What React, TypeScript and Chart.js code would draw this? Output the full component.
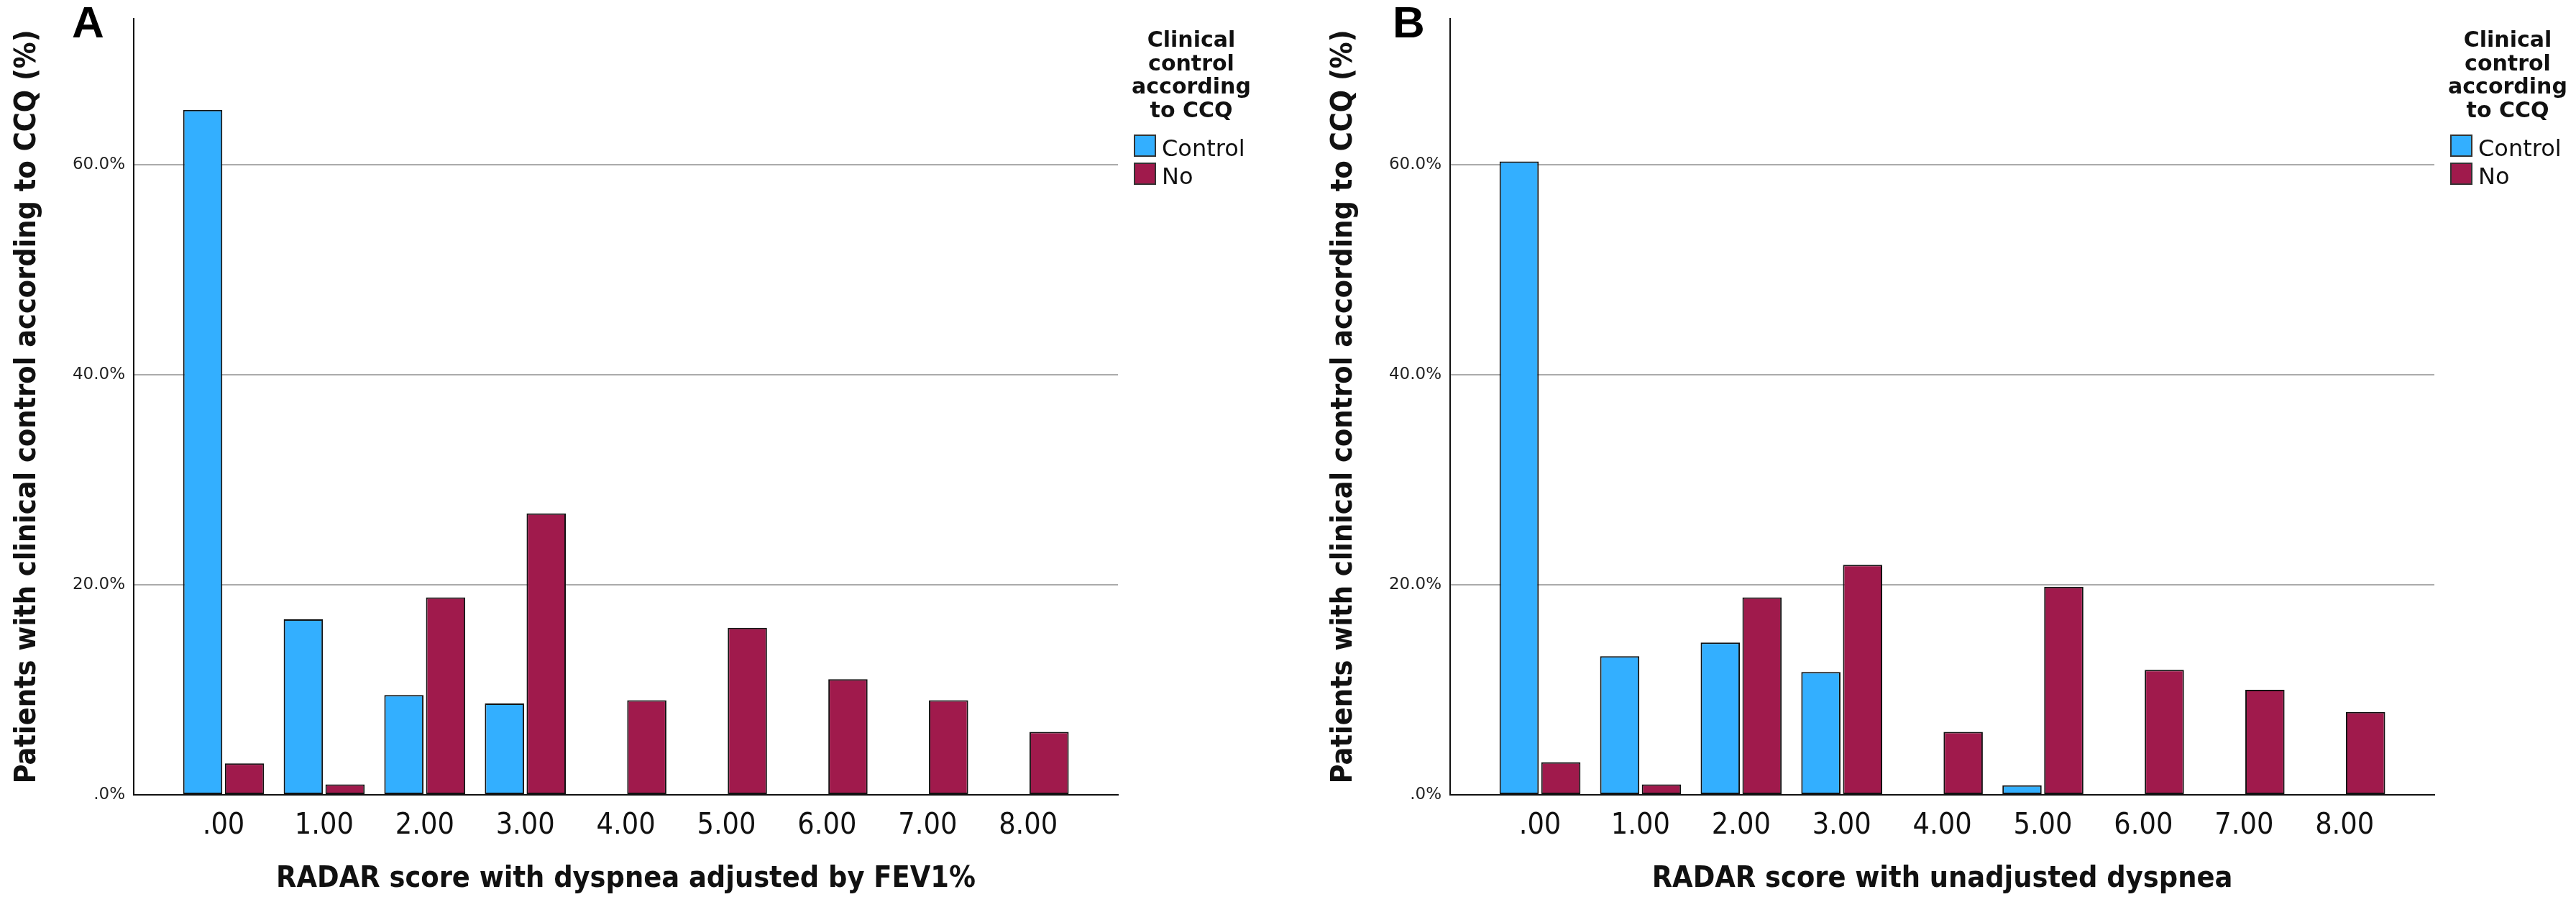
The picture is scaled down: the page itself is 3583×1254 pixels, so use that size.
import React, { useEffect, useRef } from 'react';
import { Chart, registerables } from 'chart.js';

Chart.register(...registerables);

// ---------- data ----------
const categories = ['.00', '1.00', '2.00', '3.00', '4.00', '5.00', '6.00', '7.00', '8.00'];
const seriesNames = ['Control', 'No'];
const panelAControl = [65.2, 16.7, 9.5, 8.7, 0, 0, 0, 0, 0];
const panelANo = [3.0, 1.0, 18.8, 26.8, 9.0, 15.9, 11.0, 9.0, 6.0];
const panelBControl = [60.3, 13.2, 14.5, 11.7, 0, 0.9, 0, 0, 0];
const panelBNo = [3.1, 1.0, 18.8, 21.9, 6.0, 19.8, 11.9, 10.0, 7.9];
const yTickValues = [0, 20, 40, 60];
const yMaxValue = 73.9;
const legendTitleLines = ['Clinical', 'control', 'according', 'to CCQ'];
const panelLetters = ['A', 'B'];
const xTitles = ['RADAR score with dyspnea adjusted by FEV1%', 'RADAR score with unadjusted dyspnea'];
const yTitle = 'Patients with clinical control according to CCQ (%)';

// ---------- style ----------
const COLORS = ['#33AFFF', '#A01A4C'];
const H = 1254;
const PLOT_LEFT = 186;
const PLOT_RIGHT = 1555;
const PLOT_TOP = 16;
const PLOT_BOTTOM = 1105;
const CAT0 = 311;
const CAT_STEP = 139.9;
const X_MIN = -(CAT0 - PLOT_LEFT) / CAT_STEP;
const X_MAX = X_MIN + (PLOT_RIGHT - PLOT_LEFT) / CAT_STEP;
const COND = '"DejaVu Sans Condensed", "DejaVu Sans", sans-serif';
const SANS = '"DejaVu Sans", sans-serif';

const legendPlugin = {
  id: 'spssLegend',
  afterDraw(chart: any, _args: any, opts: any) {
    const ctx = chart.ctx as CanvasRenderingContext2D;
    ctx.save();
    ctx.fillStyle = '#111';
    ctx.textAlign = 'center';
    ctx.textBaseline = 'alphabetic';
    ctx.font = `bold 30px ${SANS}`;
    legendTitleLines.forEach((l, i) => ctx.fillText(l, 1657, 65 + i * 32.5));
    chart.data.datasets.forEach((ds: any, i: number) => {
      const y = 187 + i * 39;
      ctx.fillStyle = ds.backgroundColor;
      ctx.fillRect(1577, y, 31, 31);
      ctx.strokeStyle = '#333';
      ctx.lineWidth = 2;
      ctx.strokeRect(1578, y + 1, 29, 29);
      ctx.fillStyle = '#111';
      ctx.textAlign = 'left';
      ctx.font = `32px ${SANS}`;
      ctx.fillText(ds.label, 1616, y + 30);
    });
    ctx.font = 'bold 62px "Liberation Sans", Arial, sans-serif';
    ctx.textAlign = 'left';
    ctx.fillStyle = '#000';
    ctx.fillText(opts.letter, opts.letterX, 52);
    ctx.restore();
  },
};

type PanelProps = {
  width: number;
  left: number;
  letter: string;
  letterX: number;
  control: number[];
  no: number[];
  xTitle: string;
};

function Panel({ width, left, letter, letterX, control, no, xTitle }: PanelProps) {
  const ref = useRef<HTMLCanvasElement | null>(null);
  useEffect(() => {
    if (!ref.current) return;
    const series = [control, no];
    const chart = new Chart(ref.current, {
      type: 'bar',
      data: {
        datasets: series.map((vals, si) => ({
          label: seriesNames[si],
          data: vals.map((v, i) => ({ x: i, y: v })),
          backgroundColor: COLORS[si],
          borderColor: '#111',
          borderWidth: 2,
          borderSkipped: false,
          categoryPercentage: 0.83,
          barPercentage: 0.94,
        })),
      },
      options: {
        animation: false,
        responsive: false,
        devicePixelRatio: 1,
        events: [],
        layout: { padding: { left: 0, top: PLOT_TOP, right: width - PLOT_RIGHT, bottom: 0 } },
        plugins: {
          legend: { display: false },
          tooltip: { enabled: false },
          title: { display: false },
          spssLegend: { letter, letterX },
        } as any,
        scales: {
          x: {
            type: 'linear',
            min: X_MIN,
            max: X_MAX,
            offset: false,
            grid: { display: false, offset: false },
            border: { display: true, color: '#111', width: 2 },
            afterBuildTicks: (s: any) => {
              s.ticks = categories.map((_, i) => ({ value: i }));
            },
            afterFit: (s: any) => {
              s.height = H - PLOT_BOTTOM;
            },
            ticks: {
              autoSkip: false,
              maxRotation: 0,
              padding: 11,
              color: '#111',
              font: { family: COND, size: 41, style: 'condensed' as any },
              callback: (v: any) => categories[Math.round(Number(v))] ?? '',
            },
            title: {
              display: true,
              text: xTitle,
              color: '#111',
              font: { family: COND, size: 41, weight: 'bold', style: 'condensed' as any },
              padding: { top: 0, bottom: 7 },
            },
          },
          y: {
            type: 'linear',
            min: 0,
            max: yMaxValue,
            grid: { color: '#ABABAB', lineWidth: 2, drawTicks: false },
            border: { display: true, color: '#111', width: 2 },
            afterBuildTicks: (s: any) => {
              s.ticks = yTickValues.map((v) => ({ value: v }));
            },
            afterFit: (s: any) => {
              s.width = PLOT_LEFT;
            },
            ticks: {
              padding: 12,
              color: '#222',
              font: { family: SANS, size: 23 },
              callback: (v: any) => (Number(v) === 0 ? '.0%' : `${Number(v).toFixed(1)}%`),
            },
            title: {
              display: true,
              text: yTitle,
              color: '#111',
              font: { family: COND, size: 41, weight: 'bold', style: 'condensed' as any },
              padding: { top: 14, bottom: 0 },
            },
          },
        },
      },
      plugins: [legendPlugin],
    } as any);
    return () => chart.destroy();
  }, [width, letter, letterX, control, no, xTitle]);
  return (
    <canvas
      ref={ref}
      width={width}
      height={H}
      style={{ position: 'absolute', left, top: 0, width, height: H }}
    />
  );
}

export default function App() {
  return (
    <div
      style={{
        position: 'absolute',
        left: 0,
        top: 0,
        width: 3583,
        height: H,
        overflow: 'hidden',
        background: '#fff',
      }}
    >
      <Panel width={1831} left={0} letter={panelLetters[0]} letterX={100} control={panelAControl} no={panelANo} xTitle={xTitles[0]} />
      <Panel width={1752} left={1831} letter={panelLetters[1]} letterX={106} control={panelBControl} no={panelBNo} xTitle={xTitles[1]} />
    </div>
  );
}
